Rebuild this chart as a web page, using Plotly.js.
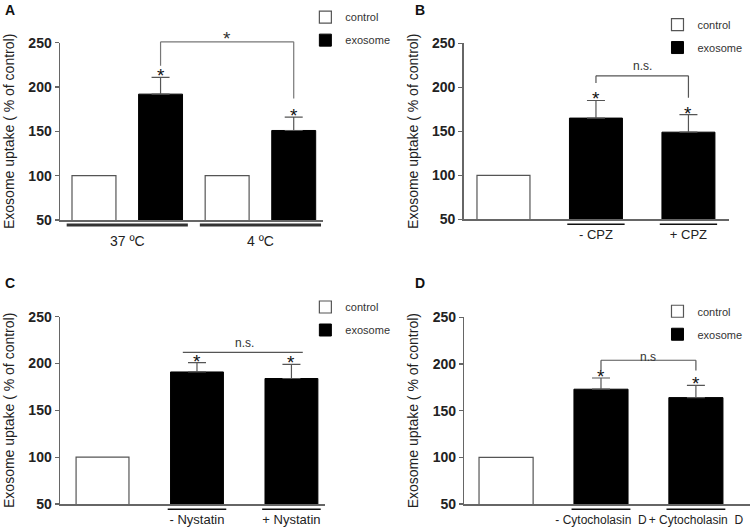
<!DOCTYPE html>
<html>
<head>
<meta charset="utf-8">
<script src="https://cdn.plot.ly/plotly-3.0.1.min.js"></script>
<style>
  body { margin: 0; background: #fff; }
  #plot { width: 754px; height: 528px; }
</style>
</head>
<body>
<div id="plot"></div>
<script>
// valores (% del control)
const legendNames = ['control', 'exosome'];
const yTicks = [50, 100, 150, 200, 250];

const tempLabels = ['37 ºC', '4 ºC'];
const tempControl = [100, 100];
const tempExosome = [192, 151];
const tempError = [19, 15];

const cpzLabels = ['- CPZ', '+ CPZ'];
const cpzControl = [100];
const cpzExosome = [165, 149];
const cpzError = [20, 20];

const nysLabels = ['- Nystatin', '+ Nystatin'];
const nysControl = [100];
const nysExosome = [191, 184];
const nysError = [10, 15];

const cytLabels = ['- Cytocholasin  D', '+ Cytocholasin  D'];
const cytControl = [100];
const cytExosome = [173, 164];
const cytError = [12, 13];

const FONT = 'Liberation Sans, Arial, sans-serif';
const Y_MIN = 50, Y_MAX = 250;
// fraccion del dominio del eje y para un valor
const dom = v => (v - Y_MIN) / (Y_MAX - Y_MIN);

const panels = [
  { n: '', letter: 'A', control: tempControl, controlX: [0, 2], exo: tempExosome, exoX: [1, 3],
    err: tempError, labels: tempLabels, labelX: [0.5, 2.5], labelSize: 14, standoff: 8,
    xRange: [-0.51, 3.44], xDomain: [0.0796, 0.4284], yDomain: [0.5833, 0.9191],
    width: 0.66, legendX: 0.405, legendY: 0.995, letterX: 0.004, letterY: 1 },
  { n: '2', letter: 'B', control: cpzControl, controlX: [0], exo: cpzExosome, exoX: [1, 2],
    err: cpzError, labels: cpzLabels, labelX: [1, 2], labelSize: 13, standoff: 3,
    xRange: [-0.43, 2.435], xDomain: [0.615, 0.9664], yDomain: [0.5847, 0.918],
    width: 0.573, legendX: 0.872, legendY: 0.981, letterX: 0.548, letterY: 1 },
  { n: '3', letter: 'C', control: nysControl, controlX: [0], exo: nysExosome, exoX: [1, 2],
    err: nysError, labels: nysLabels, labelX: [1, 2], labelSize: 13, standoff: 3,
    xRange: [-0.45, 2.355], xDomain: [0.0796, 0.431], yDomain: [0.04545, 0.4002],
    width: 0.56, legendX: 0.405, legendY: 0.446, letterX: 0.004, letterY: 0.483 },
  { n: '4', letter: 'D', control: cytControl, controlX: [0], exo: cytExosome, exoX: [1, 2],
    err: cytError, labels: cytLabels, labelX: [1, 2], labelSize: 12, standoff: 4,
    xRange: [-0.44, 2.57], xDomain: [0.6158, 0.9947], yDomain: [0.04545, 0.399],
    width: 0.57, legendX: 0.872, legendY: 0.438, letterX: 0.548, letterY: 0.483 }
];

const traces = [];
const layout = {
  width: 754, height: 528,
  margin: { l: 0, r: 0, t: 0, b: 0 },
  paper_bgcolor: '#fff', plot_bgcolor: '#fff',
  font: { family: FONT, color: '#222' },
  barmode: 'overlay',
  showlegend: true,
  annotations: [],
  shapes: []
};

panels.forEach((p, i) => {
  const xa = 'x' + p.n, ya = 'y' + p.n;
  const legendId = 'legend' + p.n;

  traces.push({
    type: 'bar', name: legendNames[0], x: p.controlX, y: p.control,
    xaxis: xa, yaxis: ya, width: p.width,
    marker: { color: '#fff', line: { color: '#555', width: 1.2 } },
    legend: legendId, legendgroup: 'c' + i, hoverinfo: 'skip'
  });
  traces.push({
    type: 'bar', name: legendNames[1], x: p.exoX, y: p.exo,
    xaxis: xa, yaxis: ya, width: p.width,
    marker: { color: '#000', line: { color: '#000', width: 1 } },
    error_y: { type: 'data', symmetric: false, array: p.err,
      arrayminus: p.err.map(() => 0), color: '#555', thickness: 1.2, width: 9 },
    legend: legendId, legendgroup: 'e' + i, hoverinfo: 'skip'
  });

  layout['xaxis' + p.n] = {
    domain: p.xDomain, range: p.xRange, anchor: ya,
    showline: true, linecolor: '#666', linewidth: 1.5,
    showgrid: false, zeroline: false, ticks: '', tickangle: 0,
    tickvals: p.labelX, ticktext: p.labels, ticklabelstandoff: p.standoff,
    tickfont: { size: p.labelSize, color: '#222', family: FONT },
    fixedrange: true
  };
  layout['yaxis' + p.n] = {
    domain: p.yDomain, range: [Y_MIN, Y_MAX], anchor: xa,
    showline: true, linecolor: '#666', linewidth: 1.5,
    showgrid: false, zeroline: false,
    ticks: 'outside', ticklen: 4, tickcolor: '#666', tickwidth: 1.2,
    tickvals: yTicks,
    tickfont: { size: 14, color: '#222', family: FONT, weight: 'bold' },
    title: { text: 'Exosome uptake ( % of control)', standoff: 10,
      font: { size: 14, color: '#222', family: FONT } },
    fixedrange: true
  };
  layout[legendId] = {
    x: p.legendX, y: p.legendY, xanchor: 'left', yanchor: 'top',
    font: { size: 11, color: '#333', family: FONT },
    bgcolor: 'rgba(0,0,0,0)', traceorder: 'grouped', tracegroupgap: 4,
    itemwidth: 30
  };

  // letra del panel
  layout.annotations.push({
    xref: 'paper', yref: 'paper', x: p.letterX, y: p.letterY,
    xanchor: 'left', yanchor: 'top', showarrow: false,
    text: '<b>' + p.letter + '</b>', font: { size: 14, color: '#111', family: FONT }
  });

  // asteriscos sobre cada barra de exosoma
  p.exoX.forEach((x, k) => {
    layout.annotations.push({
      xref: xa, yref: ya, x: x, y: p.exo[k] + p.err[k],
      yanchor: 'bottom', yshift: -11, showarrow: false,
      text: '*', font: { size: 19, color: '#111', family: FONT }
    });
  });

  // lineas bajo las etiquetas del eje x
  const half = p.n === '' ? 0.91 : 0.31;
  p.labelX.forEach(c => {
    layout.shapes.push({
      type: 'line', xref: xa, yref: ya + ' domain',
      x0: c - half, x1: c + half, y0: -0.028, y1: -0.028,
      line: { color: p.n === '' ? '#333' : '#111', width: p.n === '' ? 3 : 1.5 }
    });
  });
});

// corchetes de significacion
function bracket(n, x0, x1, yLeft, yTop, yRight, color) {
  const ya = 'y' + n + ' domain', xa = 'x' + n;
  const line = { color: color, width: 1.2 };
  layout.shapes.push(
    { type: 'line', xref: xa, yref: ya, x0: x0, x1: x0, y0: dom(yLeft), y1: dom(yTop), line },
    { type: 'line', xref: xa, yref: ya, x0: x0, x1: x1, y0: dom(yTop), y1: dom(yTop), line },
    { type: 'line', xref: xa, yref: ya, x0: x1, x1: x1, y0: dom(yRight), y1: dom(yTop), line }
  );
}
function bracketText(n, x, y, text, size, shift) {
  layout.annotations.push({
    xref: 'x' + n, yref: 'y' + n + ' domain', x: x, y: dom(y),
    yanchor: 'bottom', yshift: shift, showarrow: false,
    text: text, font: { size: size, color: '#333', family: FONT }
  });
}

bracket('', 1, 3, 224, 251, 187, '#777');
bracketText('', 2, 251, '*', 19, -9);

bracket('2', 1, 2, 205, 213, 188, '#555');
bracketText('2', 1.5, 213, 'n.s.', 12, 1);

layout.shapes.push({
  type: 'line', xref: 'x3', yref: 'y3 domain', x0: 0.85, x1: 2.12,
  y0: dom(212), y1: dom(212), line: { color: '#555', width: 1.2 }
});
bracketText('3', 1.5, 212, 'n.s.', 12, 0);

bracket('4', 1, 2, 193, 204, 193, '#555');
bracketText('4', 1.5, 204, 'n.s', 12, -6);

Plotly.newPlot('plot', traces, layout, { staticPlot: true, displayModeBar: false });
</script>
</body>
</html>
